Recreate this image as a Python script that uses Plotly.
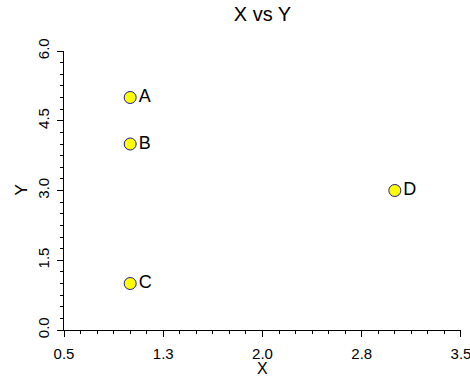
import plotly.graph_objects as go

labels = ["A", "B", "C", "D"]
x_vals = [1.0, 1.0, 1.0, 3.0]
y_vals = [5.0, 4.0, 1.0, 3.0]

x_tickvals = [0.5, 1.25, 2.0, 2.75, 3.5]
x_ticktext = ["0.5", "1.3", "2.0", "2.8", "3.5"]
y_tickvals = [0.0, 1.5, 3.0, 4.5, 6.0]
y_ticktext = ["0.0", "1.5", "3.0", "4.5", "6.0"]

FONT = "Liberation Sans, Arial, sans-serif"

fig = go.Figure(go.Scatter(
    x=x_vals, y=y_vals, mode="markers+text", text=labels,
    textposition="middle right",
    textfont=dict(family=FONT, size=18, color="black"),
    marker=dict(size=12, color="#ffff00", line=dict(color="#1a1a8c", width=1)),
    cliponaxis=False,
))

fig.update_layout(
    width=470, height=377,
    margin=dict(l=64, r=9, t=51, b=47, autoexpand=False),
    paper_bgcolor="white", plot_bgcolor="white",
    showlegend=False,
    font=dict(family=FONT, size=15, color="black"),
    title=dict(text="X vs Y", x=0.5, xref="paper", xanchor="center",
               y=1 - 14 / 377, yref="container", yanchor="middle",
               font=dict(family=FONT, size=20, color="black")),
    annotations=[
        dict(text="X", xref="paper", yref="paper", x=0.5, y=0, yanchor="middle",
             yshift=-38, showarrow=False, font=dict(family=FONT, size=16)),
        dict(text="Y", xref="paper", yref="paper", x=0, y=0.5, xanchor="center",
             xshift=-43, textangle=-90, showarrow=False, font=dict(family=FONT, size=17)),
    ],
)
fig.update_xaxes(
    range=[0.4999, 3.5001], showgrid=False, zeroline=False, automargin=False,
    showline=True, linecolor="black", linewidth=1,
    tickvals=x_tickvals, ticktext=x_ticktext,
    ticks="outside", ticklen=6, tickcolor="black", tickwidth=1,
    ticklabelstandoff=4, ticklabeloverflow="allow",
    minor=dict(dtick=0.125, tick0=0.5, ticks="outside", ticklen=3, tickcolor="black", showgrid=False),
    tickfont=dict(size=15),
)
fig.update_yaxes(
    range=[-0.0001, 6.0001], showgrid=False, zeroline=False, automargin=False,
    showline=True, linecolor="black", linewidth=1,
    tickvals=y_tickvals, ticktext=y_ticktext, tickangle=-90,
    ticks="outside", ticklen=6, tickcolor="black", tickwidth=1,
    ticklabelstandoff=2, ticklabeloverflow="allow",
    minor=dict(dtick=0.25, tick0=0, ticks="outside", ticklen=3, tickcolor="black", showgrid=False),
    tickfont=dict(size=15),
)

fig.write_html("out.html", config={"displayModeBar": False},
               post_script="document.body.style.margin='0';")
